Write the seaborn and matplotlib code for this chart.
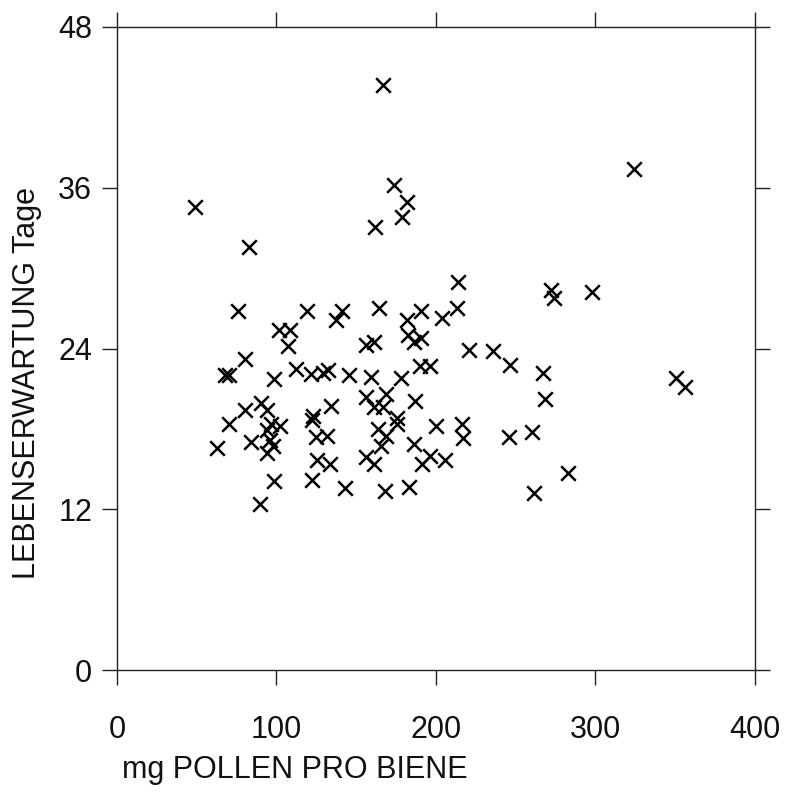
import matplotlib
matplotlib.use("Agg")
import matplotlib.pyplot as plt
import seaborn as sns
import pandas as pd

# Pollen pro Biene (mg) und Lebenserwartung (Tage)
pollen = [167, 174, 182, 179, 162, 49, 83, 324, 76, 119,
          141, 137.5, 101.5, 108.5, 107.5, 80, 68, 70.5, 98.5, 112.5,
          121.5, 129, 132, 145.5, 80.5, 90, 94, 134, 123, 122,
          214, 164.5, 190.5, 182, 213, 204, 156, 161, 182.5, 186.5,
          190.5, 221, 236, 246.5, 267, 268.5, 190, 196.5, 159, 178,
          156, 168.5, 161, 166.5, 187, 70, 96.5, 102, 94, 96,
          97.5, 94, 84, 63, 124.5, 131.5, 125.5, 133.5, 98.5, 122.5,
          143, 89.5, 175.5, 175.5, 163.5, 168.5, 165.5, 156, 161, 186,
          200, 216.5, 217, 245.5, 260.5, 196, 191.5, 205.5, 168, 183,
          261.5, 272, 274, 298, 350.5, 356, 282.5]
tage = [43.7, 36.2, 34.9, 33.8, 33.1, 34.6, 31.6, 37.4, 26.8, 26.8,
        26.8, 26.1, 25.4, 25.4, 24.2, 23.2, 22.0, 22.0, 21.7, 22.5,
        22.1, 22.2, 22.4, 22.0, 19.4, 19.9, 19.4, 19.7, 19.0, 18.7,
        29.0, 27.0, 26.8, 26.1, 27.0, 26.3, 24.3, 24.5, 25.0, 24.5,
        24.8, 23.9, 23.8, 22.8, 22.2, 20.2, 22.7, 22.7, 21.9, 21.8,
        20.4, 20.6, 19.6, 19.6, 20.1, 18.4, 18.4, 18.2, 17.9, 17.2,
        16.7, 16.2, 17.0, 16.6, 17.4, 17.5, 15.7, 15.4, 14.1, 14.2,
        13.6, 12.4, 18.8, 18.4, 18.0, 17.5, 16.7, 15.9, 15.4, 16.9,
        18.2, 18.4, 17.3, 17.4, 17.8, 16.0, 15.4, 15.7, 13.4, 13.7,
        13.2, 28.4, 27.8, 28.2, 21.8, 21.1, 14.7]

x_ticks = [0, 100, 200, 300, 400]
y_ticks = [0, 12, 24, 36, 48]

sns.set_style("ticks")
plt.rcParams['font.family'] = ['Liberation Sans', 'DejaVu Sans']

df = pd.DataFrame({'pollen': pollen, 'tage': tage})

fig = plt.figure(figsize=(7.88, 7.93), dpi=100)
ax = fig.add_axes([0.1485, 0.155, 0.8095, 0.811])

sns.scatterplot(data=df, x='pollen', y='tage', marker='x', s=110,
                color='black', linewidth=1.8, ax=ax, legend=False)

ax.set_xlim(0, 400)
ax.set_ylim(0, 48)
ax.set_xticks(x_ticks)
ax.set_yticks(y_ticks)

for side in ['left', 'right', 'top', 'bottom']:
    ax.spines[side].set_visible(True)
    ax.spines[side].set_linewidth(1.0)
    ax.spines[side].set_color('#222222')

ax.tick_params(axis='x', direction='out', length=11, width=1, pad=21,
               labelsize=22, top=True, colors='#222222', labelcolor='#111111')
ax.tick_params(axis='y', direction='out', length=11, width=1, pad=7,
               labelsize=22, right=True, colors='#222222', labelcolor='#111111')

ax.set_xlabel('mg POLLEN PRO BIENE', fontsize=22, ha='left', va='top',
              color='#111111')
ax.xaxis.set_label_coords(0.008, -0.132)
ax.set_ylabel('LEBENSERWARTUNG Tage', fontsize=22, color='#111111')
ax.yaxis.set_label_coords(-0.1175, 0.446)

fig.savefig('out.png', dpi=100, facecolor='white')
plt.close(fig)
